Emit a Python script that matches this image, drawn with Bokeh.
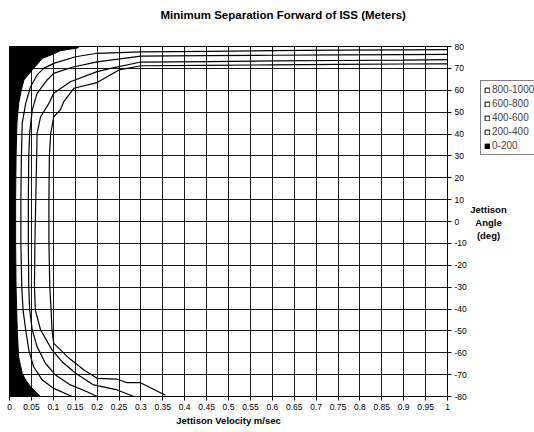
from bokeh.plotting import figure
from bokeh.layouts import row
from bokeh.models import Range1d, FixedTicker, Legend, LegendItem, Label
from bokeh.embed import file_html
from bokeh.resources import INLINE

# ---------------- data ----------------
title_text = "Minimum Separation Forward of ISS (Meters)"
x_title = "Jettison Velocity m/sec"
y_title_lines = ["Jettison", "Angle", "(deg)"]

x_ticks = [0, 0.05, 0.1, 0.15, 0.2, 0.25, 0.3, 0.35, 0.4, 0.45, 0.5,
           0.55, 0.6, 0.65, 0.7, 0.75, 0.8, 0.85, 0.9, 0.95, 1]
x_tick_labels = ["0", "0.05", "0.1", "0.15", "0.2", "0.25", "0.3", "0.35", "0.4", "0.45", "0.5",
                 "0.55", "0.6", "0.65", "0.7", "0.75", "0.8", "0.85", "0.9", "0.95", "1"]
y_ticks = [-80, -70, -60, -50, -40, -30, -20, -10, 0, 10, 20, 30, 40, 50, 60, 70, 80]
y_tick_labels = ["-80", "-70", "-60", "-50", "-40", "-30", "-20", "-10", "0",
                 "10", "20", "30", "40", "50", "60", "70", "80"]

legend_labels = ["800-1000", "600-800", "400-600", "200-400", "0-200"]

# 0-200 m region (filled black): boundary velocity / angle
band_0_200_v = [0, 0.16, 0.155, 0.116, 0.101, 0.075, 0.052, 0.033, 0.027, 0.021, 0.017, 0.015,
                0.014, 0.014, 0.015, 0.017, 0.019, 0.021, 0.029, 0.037, 0.048, 0.063, 0.071, 0]
band_0_200_a = [80, 80, 79.3, 78.1, 76.6, 74.6, 69.3, 64.7, 60.1, 54, 45, 30,
                10, -10, -30, -45, -55, -62, -69.4, -72.5, -75.5, -78.5, -80, -80]

# contour lines (innermost to outermost)
contour_1_v = [1.0, 0.9, 0.75, 0.6, 0.45, 0.3, 0.2, 0.151, 0.101, 0.078, 0.063, 0.048, 0.037,
               0.029, 0.027, 0.026, 0.026, 0.028, 0.031, 0.037, 0.044, 0.055, 0.075, 0.101, 0.143]
contour_1_a = [78.6, 78.5, 78.3, 78.1, 77.8, 77.5, 76.9, 75.3, 72.3, 70, 67, 61.6, 54,
               44.9, 28, 10, -10, -30, -40.5, -49.6, -58.7, -66.4, -72.5, -76.3, -80]

contour_2_v = [1.0, 0.9, 0.75, 0.6, 0.45, 0.3, 0.2, 0.143, 0.101, 0.086, 0.063, 0.052, 0.046,
               0.044, 0.043, 0.043, 0.044, 0.046, 0.052, 0.063, 0.082, 0.105, 0.139, 0.177, 0.2]
contour_2_a = [76.4, 76.3, 76.2, 76.0, 75.8, 75.6, 73, 70.5, 67.7, 64.7, 58.6, 51, 40.3,
               30, 10, -10, -30, -40.5, -49.6, -57.2, -64.8, -70.2, -74.7, -77.8, -80]

contour_3_v = [1.0, 0.9, 0.75, 0.6, 0.45, 0.3, 0.231, 0.2, 0.139, 0.101, 0.09, 0.071, 0.063,
               0.062, 0.060, 0.058, 0.057, 0.059, 0.071, 0.097, 0.12, 0.151, 0.192, 0.246, 0.284]
contour_3_a = [74.0, 73.8, 73.6, 73.4, 73.1, 72.9, 70, 68.5, 63.9, 58.6, 54, 47.9, 40.3,
               30, 10, -10, -30, -40.5, -49.6, -58.7, -64.1, -69.4, -74.7, -77, -80]

contour_4_v = [1.0, 0.9, 0.75, 0.6, 0.45, 0.3, 0.25, 0.2, 0.147, 0.124, 0.116, 0.101, 0.094,
               0.091, 0.090, 0.090, 0.092, 0.095, 0.097, 0.101, 0.132, 0.17, 0.2, 0.246, 0.269,
               0.299, 0.356]
contour_4_a = [72.1, 72.0, 71.8, 71.6, 71.4, 71.2, 69.3, 63.5, 60.9, 54.8, 51, 47.9, 40,
               30, 10, -10, -30, -40.5, -49.6, -55.7, -61.8, -67.9, -71.7, -72.1, -73.7,
               -73.7, -79.4]

contours_v = [contour_1_v, contour_2_v, contour_3_v, contour_4_v]
contours_a = [contour_1_a, contour_2_a, contour_3_a, contour_4_a]

# ---------------- styles ----------------
FONT = "Liberation Sans"
BLACK = "#000000"
NAN = float("nan")
legend_fills = ["#ffffff", "#ffffff", "#ffffff", "#ffffff", "#000000"]

# ---------------- main chart ----------------
p = figure(frame_width=438, frame_height=350,
           x_range=Range1d(0, 1), y_range=Range1d(-80, 80),
           y_axis_location="right", output_backend="svg", toolbar_location=None,
           min_border_left=9, min_border_right=21, min_border_top=46, min_border_bottom=36)
p.background_fill_color = "white"
p.border_fill_color = "white"
p.outline_line_color = BLACK
p.outline_line_width = 1

# title: two blank trailing lines lift the single visible line to the top of the border
p.title.text = title_text + "\n\n"
p.title.align = "left"
p.title.offset = 151
p.title.vertical_align = "top"
p.title.standoff = 0
p.title.text_font = FONT
p.title.text_font_size = "11.5px"
p.title.text_font_style = "bold"
p.title.text_color = BLACK

p.xgrid.ticker = FixedTicker(ticks=x_ticks)
p.ygrid.ticker = FixedTicker(ticks=y_ticks)
for g in (p.xgrid, p.ygrid):
    g.grid_line_color = BLACK
    g.grid_line_alpha = 0.9
    g.grid_line_width = 1

p.xaxis.ticker = FixedTicker(ticks=x_ticks)
p.xaxis.major_label_overrides = dict(zip(x_ticks, x_tick_labels))
p.yaxis.ticker = FixedTicker(ticks=y_ticks)
p.yaxis.major_label_overrides = dict(zip(y_ticks, y_tick_labels))
for ax in (p.xaxis, p.yaxis):
    ax.axis_line_color = BLACK
    ax.major_tick_line_color = BLACK
    ax.minor_tick_line_color = None
    ax.major_tick_out = 4
    ax.major_tick_in = 0
    ax.major_label_text_font = FONT
    ax.major_label_text_color = BLACK
    ax.major_label_standoff = 3
    ax.major_label_text_font_size = "8.5px"
p.xaxis.axis_label = x_title
p.xaxis.axis_label_text_font = FONT
p.xaxis.axis_label_text_font_size = "9.5px"
p.xaxis.axis_label_text_font_style = "bold"
p.xaxis.axis_label_text_color = BLACK
p.xaxis.axis_label_standoff = 2

p.patch(band_0_200_v, band_0_200_a, fill_color=BLACK, line_color=BLACK, line_width=1)
for cv, ca in zip(contours_v, contours_a):
    p.line(cv, ca, line_color=BLACK, line_width=1.2)

# ---------------- side strip: legend and angle-axis title ----------------
# its frame is aligned with the main frame (y 46..396 px), x 468..534 px
side = figure(width=66, height=432, x_range=Range1d(468, 534), y_range=Range1d(396, 46),
              output_backend="svg", toolbar_location=None, min_border=0,
              x_axis_type=None, y_axis_type=None, title_location=None)
side.outline_line_color = None
side.background_fill_color = "white"
side.border_fill_color = "white"
side.xgrid.visible = False
side.ygrid.visible = False

items = []
for lab, fc in zip(legend_labels, legend_fills):
    r = side.quad(left=[NAN], right=[NAN], top=[NAN], bottom=[NAN],
                  fill_color=fc, line_color=BLACK, line_width=1)
    items.append(LegendItem(label=lab, renderers=[r]))
legend = Legend(items=items, location=(11, 241))
legend.border_line_color = BLACK
legend.border_line_width = 1
legend.background_fill_color = "white"
legend.background_fill_alpha = 1
legend.padding = 3
legend.margin = 0
legend.spacing = 3
legend.glyph_width = 6
legend.glyph_height = 6
legend.label_height = 11
legend.label_standoff = 2
legend.label_text_font = FONT
legend.label_text_font_size = "10px"
legend.label_text_baseline = "middle"
side.add_layout(legend)

for txt, yy in zip(y_title_lines, [209, 222, 235]):
    side.add_layout(Label(x=487, y=yy, text=txt, text_font=FONT, text_font_size="9.5px",
                          text_font_style="bold", text_align="center", text_baseline="middle",
                          text_color=BLACK))

layout = row(p, side)
open("out.html", "w").write(file_html(layout, INLINE))
